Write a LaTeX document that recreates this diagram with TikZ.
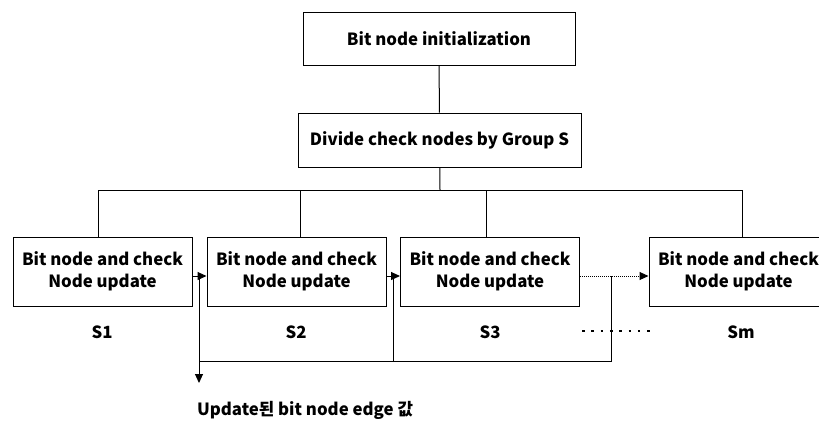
\documentclass[tikz,border=0pt]{standalone}
\usepackage{fontspec}
\setmainfont{Noto Sans CJK KR}
\usetikzlibrary{arrows.meta}

\begin{document}
\begin{tikzpicture}[x=1pt,y=-1pt,line width=1pt,
        font=\bfseries\fontsize{16.8}{22}\selectfont,
        >={Triangle[length=9pt,width=8pt]}]
        \clip (0,0) rectangle (819,421);
        \begin{scope}[every node/.style={draw,minimum height=53pt,inner sep=0pt}]
            \node[minimum width=272pt] (init) at (439,38.5) {Bit node initialization};
            \node[minimum width=283pt,minimum height=54pt] (divide) at (439.5,140) {Divide check nodes by Group S};
        \end{scope}
        \begin{scope}[every node/.style={draw,minimum width=179pt,minimum height=69pt,inner sep=0pt,align=center}]
            \node (u1) at (102.5,271.5) {Bit node and check\\Node update};
            \node (u2) at (296.5,271.5) {Bit node and check\\Node update};
            \node (u3) at (490,271.5) {Bit node and check\\Node update};
            \node (u4) at (738.5,271.5) {Bit node and check\\Node update};
        \end{scope}
        \node (s1) at (102,332) {S1};
        \node (s2) at (296,332) {S2};
        \node (s3) at (490,332) {S3};
        \node (sm) at (741,332) {Sm};
        \node (result) at (305,410) {Update된 bit node edge 값};

        \coordinate (fork) at (440,190);
        \coordinate (j1) at (199,276);
        \coordinate (j2) at (393,276);
        \coordinate (j3) at (611,276);
        \coordinate (bus) at (199,361);
        \coordinate (out) at (199,383);

        % tree from the top boxes down to the groups
        \draw (init) -- (divide);
        \draw (divide) -- (fork);
        \draw ([xshift=-4pt]u1.north) |- ([xshift=4pt]u4.north |- fork) -- ([xshift=4pt]u4.north);
        \draw ([xshift=4pt]u2.north) -- ([xshift=4pt]u2.north |- fork);
        \draw ([xshift=-4pt]u3.north) -- ([xshift=-4pt]u3.north |- fork);

        % group to group, and the gathered output
        \path [->] (u1.east |- j1) edge (u2.west |- j1);
        \path [->] (u2.east |- j2) edge (u3.west |- j2);
        \path [->,dash pattern=on 1pt off 1pt] (u3.east |- j3) edge (u4.west |- j3);
        \draw [->] (j1) -- (out);
        \draw (j2) -- (j2 |- bus);
        \draw (j3) |- (bus);

        \draw [line width=2.6pt,dash pattern=on 2.6pt off 6.7pt] (582,331) -- (651,331);
    \end{tikzpicture}
\end{document}
